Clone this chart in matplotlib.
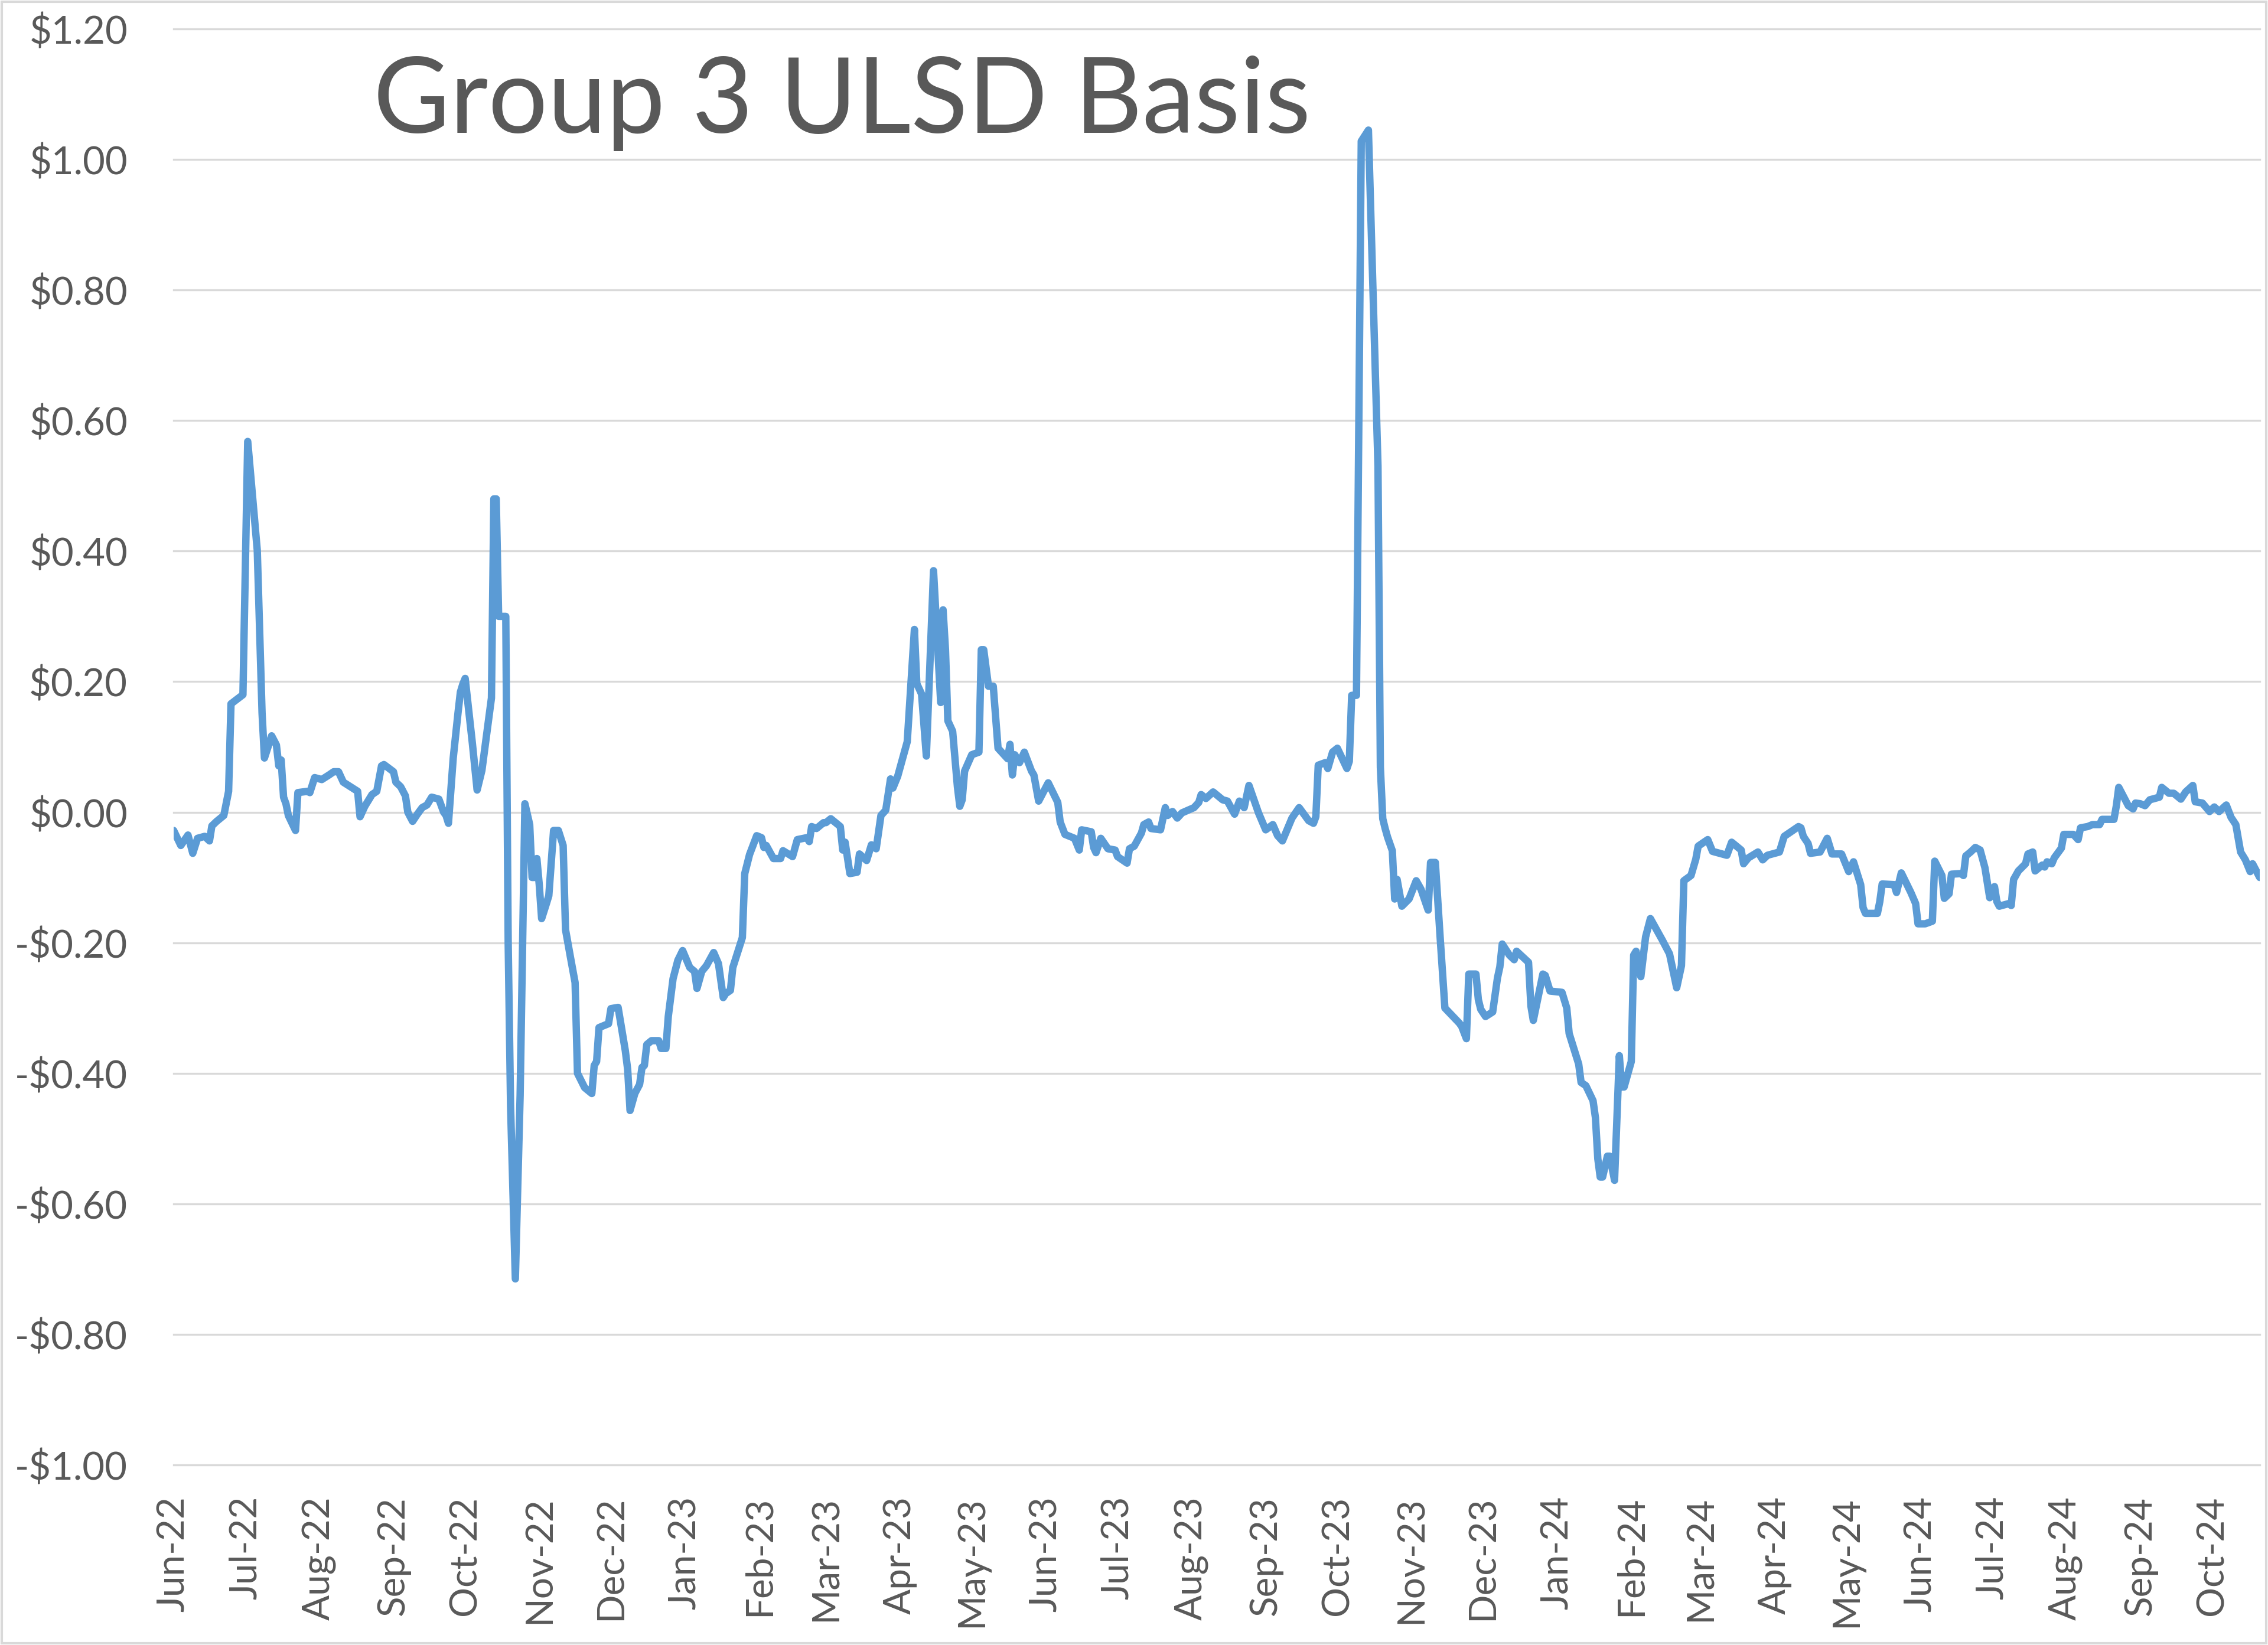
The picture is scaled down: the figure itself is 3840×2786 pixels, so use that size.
import matplotlib
matplotlib.use("Agg")
import matplotlib.dates as mdates
import matplotlib.pyplot as plt
import pandas as pd
from matplotlib.patches import Rectangle
from matplotlib.ticker import FuncFormatter, MultipleLocator

# Group 3 ULSD basis, $/gal (MM-DD per year)
DAYS_2022 = [
    "06-01", "06-04", "06-07", "06-09", "06-11", "06-14", "06-16", "06-17", "06-19", "06-22",
    "06-24", "06-25", "06-30", "07-02", "07-06", "07-08", "07-09", "07-12", "07-14", "07-15",
    "07-16", "07-17", "07-18", "07-19", "07-22", "07-23", "07-27", "07-28", "07-30", "08-02",
    "08-05", "08-07", "08-09", "08-11", "08-14", "08-17", "08-18", "08-20", "08-23", "08-25",
    "08-27", "08-28", "09-01", "09-02", "09-04", "09-06", "09-07", "09-09", "09-11", "09-13",
    "09-15", "09-17", "09-20", "09-22", "09-23", "09-24", "09-26", "09-28", "09-29", "09-30",
    "10-01", "10-04", "10-06", "10-08", "10-12", "10-13", "10-14", "10-15", "10-18", "10-19",
    "10-20", "10-22", "10-24", "10-26", "10-28", "10-29", "10-30", "10-31", "11-01", "11-02",
    "11-04", "11-05", "11-07", "11-09", "11-11", "11-12", "11-14", "11-16", "11-17", "11-20",
    "11-23", "11-24", "11-25", "11-26", "11-30", "12-01", "12-04", "12-07", "12-08", "12-09",
    "12-11", "12-13", "12-14", "12-15", "12-16", "12-18", "12-21", "12-22", "12-24", "12-25",
    "12-27", "12-29", "12-31",
]
BASIS_2022 = [
    -0.028, -0.051, -0.035, -0.063, -0.040, -0.037, -0.044, -0.021, -0.014, -0.005,
    0.032, 0.166, 0.180, 0.568, 0.401, 0.152, 0.083, 0.117, 0.103, 0.071,
    0.080, 0.023, 0.013, -0.005, -0.028, 0.030, 0.032, 0.030, 0.053, 0.050,
    0.057, 0.062, 0.062, 0.046, 0.039, 0.032, -0.007, 0.009, 0.027, 0.032,
    0.071, 0.073, 0.062, 0.046, 0.039, 0.025, 0.000, -0.014, -0.003, 0.007,
    0.011, 0.023, 0.020, 0.000, -0.005, -0.017, 0.083, 0.152, 0.184, 0.196,
    0.205, 0.106, 0.034, 0.064, 0.175, 0.480, 0.480, 0.300, 0.300, -0.200,
    -0.450, -0.715, -0.434, 0.013, -0.019, -0.100, -0.100, -0.071, -0.111, -0.163,
    -0.140, -0.128, -0.028, -0.028, -0.051, -0.180, -0.221, -0.261, -0.400, -0.422,
    -0.431, -0.388, -0.382, -0.330, -0.324, -0.301, -0.299, -0.365, -0.394, -0.457,
    -0.431, -0.417, -0.391, -0.388, -0.356, -0.350, -0.350, -0.362, -0.362, -0.313,
    -0.255, -0.227, -0.212,
]

DAYS_2023 = [
    "01-03", "01-05", "01-06", "01-08", "01-10", "01-13", "01-15", "01-17", "01-18", "01-20",
    "01-21", "01-25", "01-26", "01-28", "01-31", "02-02", "02-03", "02-04", "02-07", "02-10",
    "02-11", "02-15", "02-17", "02-21", "02-22", "02-23", "02-25", "02-28", "03-01", "03-03",
    "03-07", "03-08", "03-09", "03-11", "03-14", "03-15", "03-18", "03-20", "03-22", "03-24",
    "03-26", "03-28", "03-29", "03-31", "04-04", "04-07", "04-08", "04-10", "04-12", "04-15",
    "04-18", "04-19", "04-20", "04-21", "04-23", "04-25", "04-26", "04-27", "04-28", "05-01",
    "05-04", "05-05", "05-06", "05-08", "05-10", "05-12", "05-16", "05-17", "05-18", "05-19",
    "05-21", "05-23", "05-26", "05-27", "05-29", "06-02", "06-06", "06-07", "06-09", "06-13",
    "06-15", "06-16", "06-20", "06-21", "06-22", "06-24", "06-27", "06-30", "07-01", "07-05",
    "07-06", "07-08", "07-11", "07-12", "07-14", "07-15", "07-19", "07-21", "07-22", "07-24",
    "07-26", "07-28", "08-02", "08-04", "08-05", "08-07", "08-10", "08-14", "08-16", "08-19",
    "08-21", "08-23", "08-25", "08-29", "09-01", "09-04", "09-06", "09-08", "09-12", "09-15",
    "09-19", "09-21", "09-22", "09-23", "09-26", "09-27", "09-29", "10-01", "10-05", "10-06",
    "10-07", "10-09", "10-11", "10-14", "10-18", "10-19", "10-20", "10-21", "10-22", "10-24",
    "10-25", "10-26", "10-28", "10-31", "11-03", "11-05", "11-08", "11-09", "11-11", "11-13",
    "11-15", "11-21", "11-22", "11-24", "11-25", "11-28", "11-29", "11-30", "12-02", "12-05",
    "12-07", "12-08", "12-09", "12-12", "12-14", "12-15", "12-20", "12-21", "12-22", "12-26",
    "12-27", "12-29",
]
BASIS_2023 = [
    -0.238, -0.244, -0.270, -0.244, -0.235, -0.215, -0.232, -0.284, -0.278, -0.273,
    -0.238, -0.192, -0.094, -0.065, -0.036, -0.039, -0.054, -0.051, -0.071, -0.071,
    -0.059, -0.068, -0.042, -0.039, -0.045, -0.022, -0.025, -0.016, -0.016, -0.010,
    -0.022, -0.058, -0.046, -0.094, -0.092, -0.064, -0.074, -0.050, -0.056, -0.005,
    0.003, 0.051, 0.037, 0.055, 0.108, 0.280, 0.197, 0.181, 0.086, 0.370,
    0.168, 0.310, 0.249, 0.140, 0.124, 0.039, 0.009, 0.019, 0.063, 0.088,
    0.092, 0.249, 0.249, 0.193, 0.193, 0.098, 0.082, 0.104, 0.057, 0.088,
    0.076, 0.092, 0.063, 0.057, 0.017, 0.045, 0.015, -0.015, -0.034, -0.040,
    -0.058, -0.027, -0.030, -0.054, -0.062, -0.040, -0.056, -0.058, -0.068, -0.078,
    -0.056, -0.052, -0.032, -0.019, -0.015, -0.025, -0.027, 0.007, -0.005, 0.001,
    -0.009, -0.001, 0.007, 0.015, 0.027, 0.021, 0.031, 0.019, 0.017, -0.003,
    0.017, 0.007, 0.041, -0.001, -0.027, -0.019, -0.036, -0.044, -0.009, 0.007,
    -0.013, -0.017, -0.007, 0.072, 0.076, 0.067, 0.092, 0.098, 0.067, 0.078,
    0.179, 0.179, 1.028, 1.045, 0.530, 0.069, -0.010, -0.025, -0.038, -0.059,
    -0.133, -0.103, -0.144, -0.133, -0.105, -0.118, -0.150, -0.077, -0.077, -0.191,
    -0.300, -0.323, -0.328, -0.347, -0.248, -0.248, -0.287, -0.302, -0.313, -0.306,
    -0.254, -0.237, -0.202, -0.219, -0.226, -0.213, -0.230, -0.297, -0.319, -0.248,
    -0.250, -0.274,
]

DAYS_2024 = [
    "01-03", "01-05", "01-06", "01-10", "01-11", "01-13", "01-16", "01-17", "01-18", "01-19",
    "01-20", "01-22", "01-23", "01-25", "01-27", "01-28", "01-29", "02-01", "02-02", "02-03",
    "02-05", "02-07", "02-09", "02-14", "02-17", "02-20", "02-22", "02-23", "02-26", "02-28",
    "02-29", "03-04", "03-06", "03-12", "03-14", "03-18", "03-19", "03-21", "03-25", "03-27",
    "03-29", "04-03", "04-05", "04-11", "04-12", "04-13", "04-15", "04-16", "04-20", "04-23",
    "04-25", "04-29", "05-02", "05-04", "05-07", "05-08", "05-09", "05-14", "05-15", "05-16",
    "05-21", "05-22", "05-24", "05-28", "05-30", "05-31", "06-03", "06-06", "06-07", "06-10",
    "06-11", "06-13", "06-14", "06-18", "06-19", "06-20", "06-22", "06-24", "06-26", "06-28",
    "06-30", "07-02", "07-03", "07-04", "07-08", "07-09", "07-10", "07-12", "07-15", "07-16",
    "07-18", "07-19", "07-22", "07-23", "07-24", "07-26", "07-27", "07-30", "07-31", "08-04",
    "08-06", "08-07", "08-10", "08-12", "08-15", "08-16", "08-21", "08-22", "08-23", "08-27",
    "08-29", "08-30", "09-01", "09-03", "09-05", "09-09", "09-10", "09-13", "09-15", "09-18",
    "09-20", "09-23", "09-24", "09-27", "09-30", "10-02", "10-04", "10-07", "10-09", "10-11",
    "10-13", "10-15", "10-17", "10-18", "10-21",
]
BASIS_2024 = [
    -0.276, -0.300, -0.339, -0.386, -0.414, -0.419, -0.442, -0.468, -0.531, -0.559,
    -0.559, -0.527, -0.527, -0.564, -0.373, -0.421, -0.421, -0.382, -0.219, -0.213,
    -0.252, -0.191, -0.163, -0.196, -0.217, -0.269, -0.235, -0.105, -0.097, -0.072,
    -0.052, -0.042, -0.060, -0.066, -0.046, -0.058, -0.079, -0.070, -0.061, -0.073,
    -0.066, -0.061, -0.037, -0.022, -0.024, -0.037, -0.048, -0.063, -0.061, -0.040,
    -0.064, -0.064, -0.091, -0.076, -0.111, -0.146, -0.155, -0.155, -0.137, -0.110,
    -0.111, -0.123, -0.093, -0.123, -0.140, -0.171, -0.171, -0.167, -0.075, -0.097,
    -0.132, -0.125, -0.095, -0.094, -0.097, -0.067, -0.061, -0.054, -0.058, -0.085,
    -0.131, -0.114, -0.137, -0.144, -0.140, -0.143, -0.103, -0.090, -0.079, -0.064,
    -0.061, -0.090, -0.081, -0.084, -0.076, -0.079, -0.070, -0.055, -0.034, -0.034,
    -0.042, -0.024, -0.022, -0.019, -0.019, -0.011, -0.011, 0.010, 0.038, 0.010,
    0.005, 0.014, 0.013, 0.010, 0.019, 0.023, 0.038, 0.029, 0.029, 0.020,
    0.031, 0.041, 0.016, 0.014, 0.001, 0.008, 0.001, 0.011, -0.008, -0.019,
    -0.061, -0.073, -0.091, -0.079, -0.100,
]

Y_TICKS = [-1.0, -0.8, -0.6, -0.4, -0.2, 0.0, 0.2, 0.4, 0.6, 0.8, 1.0, 1.2]
TITLE = "Group 3 ULSD Basis"

LINE_COLOR = "#5B9BD5"
GRID_COLOR = "#D9D9D9"
TEXT_COLOR = "#595959"

plt.rcParams["font.family"] = ["Lato", "DejaVu Sans"]


def dollars(value, pos):
    value = round(value, 2)
    if value < 0:
        return f"-${abs(value):.2f}"
    return f"${value:.2f}"


dates = pd.to_datetime(
    ["2022-" + d for d in DAYS_2022]
    + ["2023-" + d for d in DAYS_2023]
    + ["2024-" + d for d in DAYS_2024]
)
basis = BASIS_2022 + BASIS_2023 + BASIS_2024

W, H = 3840, 2786
fig = plt.figure(figsize=(W / 100, H / 100), dpi=100)
left, right, top, bottom = 294, 3826, 49, 2481
ax = fig.add_axes([left / W, 1 - bottom / H, (right - left) / W, (bottom - top) / H])

ax.plot(dates, basis, color=LINE_COLOR, linewidth=9,
        solid_joinstyle="round", solid_capstyle="round", zorder=3)

ax.set_xlim(dates[0], dates[-1])
ax.set_ylim(Y_TICKS[0], Y_TICKS[-1])
ax.yaxis.set_major_locator(MultipleLocator(0.2))
ax.yaxis.set_major_formatter(FuncFormatter(dollars))
ax.xaxis.set_major_locator(mdates.MonthLocator())
ax.xaxis.set_major_formatter(mdates.DateFormatter("%b-%y"))

ax.grid(axis="y", color=GRID_COLOR, linewidth=2.4)
ax.grid(axis="x", visible=False)
ax.set_axisbelow(True)
for gl in ax.get_ygridlines():
    gl.set_clip_on(False)
for spine in ax.spines.values():
    spine.set_visible(False)

ax.tick_params(axis="y", length=0, labelsize=47, labelcolor=TEXT_COLOR, pad=56)
ax.tick_params(axis="x", length=0, labelsize=46, labelcolor=TEXT_COLOR, pad=38)
plt.setp(ax.get_xticklabels(), rotation=90, ha="center", va="top")

fig.text(632 / W, 1 - 225 / H, TITLE, fontsize=128, color=TEXT_COLOR,
         ha="left", va="baseline")

# light chart-area border like the Excel frame
fig.patches.append(Rectangle((3 / W, 3 / H), 1 - 6 / W, 1 - 6 / H,
                             transform=fig.transFigure, fill=False,
                             edgecolor=GRID_COLOR, linewidth=3))

fig.savefig("out.png", dpi=100)
